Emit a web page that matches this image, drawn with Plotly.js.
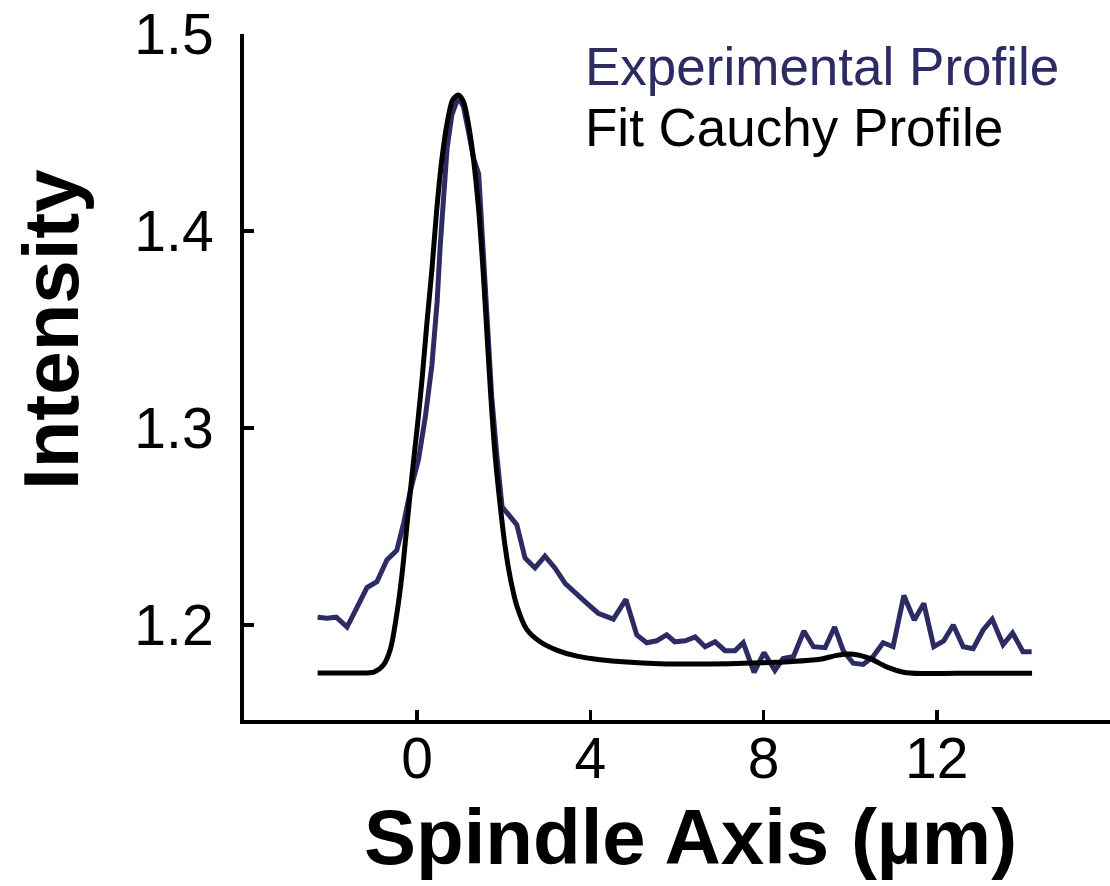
<!DOCTYPE html>
<html>
<head>
<meta charset="utf-8">
<script src="https://cdn.plot.ly/plotly-3.0.1.min.js"></script>
<style>
html,body{margin:0;padding:0;background:#fff;}
#chart{width:1110px;height:886px;}
</style>
</head>
<body>
<div id="chart"></div>
<script>
// Experimental profile
const expX = [-2.3,-2.08,-1.87,-1.62,-1.39,-1.16,-0.93,-0.70,-0.47,-0.31,-0.16,0.03,0.19,0.34,0.46,0.53,0.69,0.80,0.95,1.07,1.18,1.30,1.42,1.49,1.61,1.72,1.84,1.96,2.11,2.30,2.49,2.72,2.95,3.18,3.42,3.65,3.92,4.18,4.53,4.82,5.07,5.30,5.53,5.76,5.95,6.19,6.42,6.65,6.88,7.11,7.34,7.53,7.78,8.01,8.26,8.45,8.69,8.93,9.15,9.42,9.64,9.84,10.07,10.30,10.53,10.76,10.99,11.24,11.48,11.70,11.93,12.16,12.38,12.61,12.84,13.07,13.28,13.53,13.75,13.99,14.19];
const expY = [1.204,1.2035,1.204,1.199,1.209,1.219,1.222,1.233,1.238,1.252,1.268,1.284,1.306,1.332,1.364,1.392,1.442,1.459,1.468,1.463,1.451,1.437,1.429,1.400,1.356,1.316,1.286,1.260,1.256,1.251,1.234,1.229,1.235,1.229,1.221,1.216,1.211,1.206,1.203,1.213,1.195,1.191,1.192,1.195,1.1915,1.192,1.194,1.189,1.1915,1.187,1.187,1.191,1.176,1.186,1.177,1.183,1.184,1.197,1.189,1.1885,1.199,1.187,1.1806,1.180,1.184,1.191,1.189,1.215,1.2025,1.211,1.189,1.192,1.200,1.189,1.188,1.1975,1.203,1.190,1.196,1.1865,1.1865];

// Fit Cauchy profile
const fitX = [-2.3,-1.5,-1.0,-0.78,-0.62,-0.47,-0.35,-0.24,-0.12,0.0,0.11,0.22,0.34,0.45,0.57,0.69,0.82,0.95,1.07,1.18,1.30,1.42,1.52,1.61,1.70,1.80,1.92,2.03,2.15,2.30,2.53,2.84,3.22,3.69,4.22,4.84,5.6,6.37,7.2,7.92,8.6,9.30,9.69,10.07,10.45,10.84,11.3,12.5,14.2];
const fitY = [1.1757,1.1757,1.1761,1.1797,1.1877,1.2058,1.2258,1.2499,1.2760,1.3001,1.3242,1.3523,1.3804,1.4105,1.4365,1.4546,1.4666,1.4690,1.4656,1.4546,1.4365,1.4105,1.3804,1.3482,1.3161,1.2860,1.2600,1.2399,1.2239,1.2098,1.1978,1.1915,1.1873,1.1842,1.1824,1.1812,1.1804,1.1802,1.1804,1.1808,1.1814,1.1826,1.1846,1.1852,1.1831,1.1788,1.1758,1.1755,1.1755];

const xTicks = [0, 4, 8, 12];
const yTicks = [1.2, 1.3, 1.4, 1.5];
const yTickText = ['1.2', '1.3', '1.4', '1.5'];
const legendNames = ['Experimental Profile', 'Fit Cauchy Profile'];

const navy = '#2d2b63';
const fontFam = 'Liberation Sans, Arial, sans-serif';

const L = 244, T = 34, W = 866, H = 686;
const px = v => (v - L) / W;
const py = v => (T + H - v) / H;

const traces = [
  {x: expX, y: expY, type: 'scatter', mode: 'lines', name: legendNames[0],
   line: {color: navy, width: 5}},
  {x: fitX, y: fitY, type: 'scatter', mode: 'lines', name: legendNames[1],
   line: {color: '#000000', width: 5, shape: 'spline', smoothing: 0.8}}
];

const layout = {
  width: 1110, height: 886,
  margin: {l: L, r: 1110 - L - W, t: T, b: 886 - T - H, pad: 0},
  paper_bgcolor: '#ffffff', plot_bgcolor: '#ffffff',
  showlegend: false,
  xaxis: {
    range: [-4, 16], tickvals: xTicks, ticks: 'inside', ticklen: 10, tickwidth: 3.5, tickcolor: '#000',
    showline: true, linewidth: 4, linecolor: '#000', showgrid: false, zeroline: false,
    tickfont: {family: fontFam, size: 57, color: '#000'}, ticklabelstandoff: -14
  },
  yaxis: {
    range: [1.1518, 1.5], tickvals: yTicks, ticktext: yTickText, ticks: 'inside', ticklen: 10, tickwidth: 3.5, tickcolor: '#000',
    showline: true, linewidth: 4, linecolor: '#000', showgrid: false, zeroline: false,
    tickfont: {family: fontFam, size: 57, color: '#000'}, ticklabelstandoff: 15
  },
  annotations: [
    {text: 'Intensity', xref: 'paper', yref: 'paper', x: px(51), y: py(330), xanchor: 'center', yanchor: 'middle',
     textangle: -90, showarrow: false, font: {family: fontFam, size: 78, color: '#000', weight: 'bold'}},
    {text: 'Spindle Axis (µm)', xref: 'paper', yref: 'paper', x: px(690), y: py(837), xanchor: 'center', yanchor: 'middle',
     showarrow: false, font: {family: fontFam, size: 78, color: '#000', weight: 'bold'}},
    {text: legendNames[0], xref: 'paper', yref: 'paper', x: px(583), y: py(66), xanchor: 'left', yanchor: 'middle',
     showarrow: false, font: {family: fontFam, size: 53, color: navy}},
    {text: legendNames[1], xref: 'paper', yref: 'paper', x: px(583), y: py(127), xanchor: 'left', yanchor: 'middle',
     showarrow: false, font: {family: fontFam, size: 53, color: '#000'}}
  ]
};

Plotly.newPlot('chart', traces, layout, {displayModeBar: false, staticPlot: true});
</script>
</body>
</html>
